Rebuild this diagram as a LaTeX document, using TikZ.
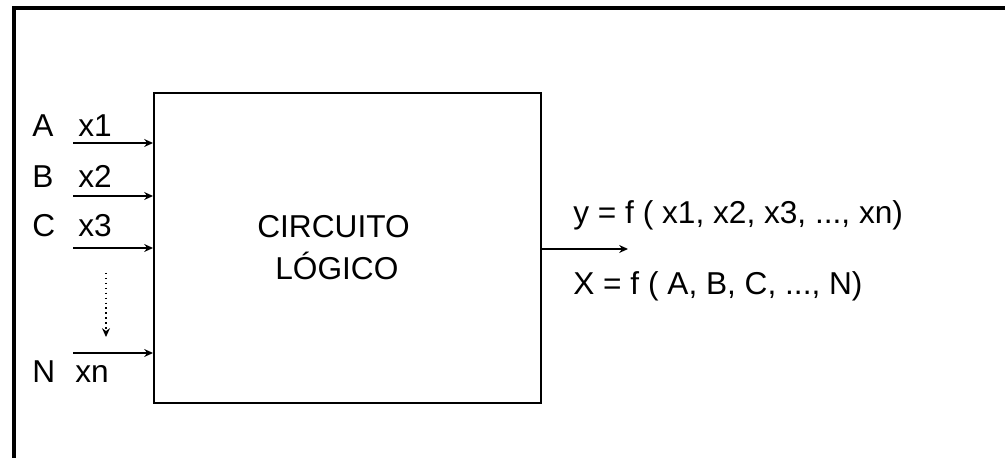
\documentclass[tikz,border=0pt]{standalone}
\usepackage{fontspec}
\setmainfont{Liberation Sans}
\usetikzlibrary{arrows.meta}
\tikzset{
  signal/.style={-{Stealth[length=5pt,width=4.5pt]}, line width=0.8pt, draw=black},
  block/.style={draw=black, line width=1.1pt, rectangle, minimum width=7.74cm, minimum height=6.2cm, inner sep=0pt, fill=none},
  frame/.style={draw=black, line width=1.8pt},
  lbl/.style={font=\fontsize{18}{20}\selectfont, anchor=base west, inner sep=0pt}
}
\begin{document}
\begin{tikzpicture}
  \useasboundingbox (0,0) rectangle (20.1,9.16);
  \draw[frame] (0.28,-0.1) -- (0.28,9.0) -- (20.2,9.0);

  \node[block] (circ) at (6.95,4.20) {};
  \node[lbl] (t1) at (5.14,4.40) {CIRCUITO};
  \node[lbl] (t2) at (5.50,3.56) {LÓGICO};

  \coordinate (in1) at (1.46,6.30);
  \coordinate (in2) at (1.46,5.24);
  \coordinate (in3) at (1.46,4.20);
  \coordinate (inn) at (1.46,2.10);
  \draw[signal] (in1) -- (in1 -| circ.west);
  \draw[signal] (in2) -- (in2 -| circ.west);
  \draw[signal] (in3) -- (in3 -| circ.west);
  \draw[signal] (inn) -- (inn -| circ.west);

  \node[lbl] (la) at (0.64,6.42) {A};
  \node[lbl] (lx1) at (1.56,6.42) {x1};
  \node[lbl] (lb) at (0.64,5.40) {B};
  \node[lbl] (lx2) at (1.56,5.40) {x2};
  \node[lbl] (lc) at (0.64,4.42) {C};
  \node[lbl] (lx3) at (1.56,4.42) {x3};
  \node[lbl] (ln) at (0.64,1.50) {N};
  \node[lbl] (lxn) at (1.50,1.50) {xn};

  \coordinate (dtop) at (2.12,3.70);
  \coordinate (dbot) at (2.12,2.42);
  \draw[signal, dotted] (dtop) -- (dbot);

  \coordinate (out) at (12.56,4.18);
  \draw[signal] (circ.east |- out) -- (out);
  \node[lbl] (fy) at (11.46,4.68) {y = f ( x1, x2, x3, ..., xn)};
  \node[lbl] (fx) at (11.46,3.26) {X = f ( A, B, C, ..., N)};
\end{tikzpicture}
\end{document}
